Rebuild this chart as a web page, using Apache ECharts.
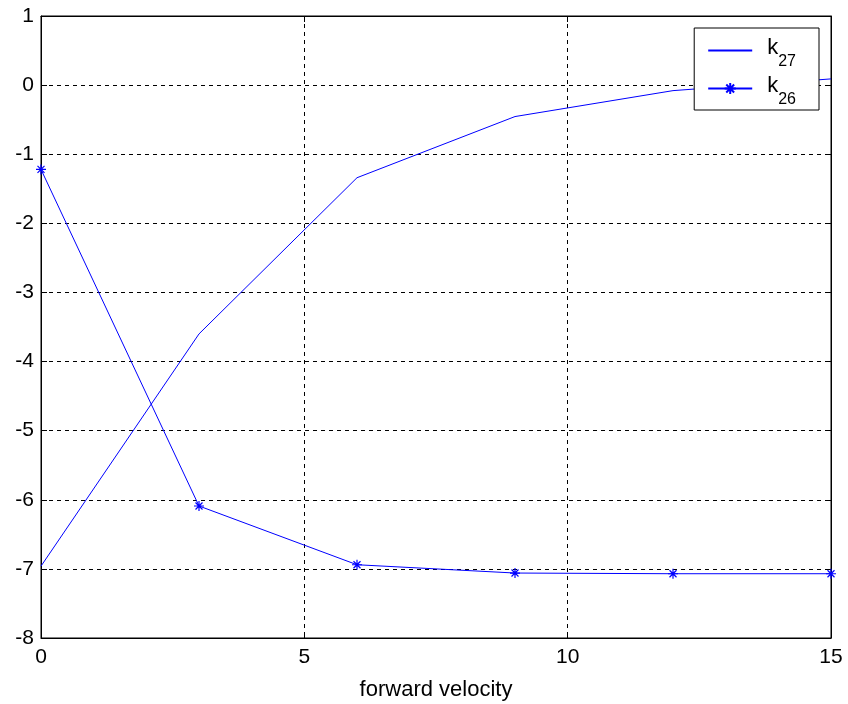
<!DOCTYPE html>
<html>
<head>
<meta charset="utf-8">
<script src="https://cdn.jsdelivr.net/npm/echarts@6/dist/echarts.min.js"></script>
<style>
  html, body { margin: 0; padding: 0; background: #fff; }
  #chart { width: 848px; height: 704px; }
</style>
</head>
<body>
<div id="chart"></div>
<script>
// data
const velocity = [0, 3, 6, 9, 12, 15];
const k27 = [-6.96, -3.60, -1.34, -0.455, -0.08, 0.09];
const k26 = [-1.22, -6.09, -6.94, -7.06, -7.07, -7.07];
const seriesNames = ['k27', 'k26'];
const subscripts = { k27: '27', k26: '26' };

const FONT = "'Liberation Sans', Arial, sans-serif";
const BLUE = '#0000ff';
// matlab style asterisk marker
const STAR = 'path://M5,0L5,10M0,5L10,5M1.5,1.5L8.5,8.5M1.5,8.5L8.5,1.5';

const chart = echarts.init(document.getElementById('chart'));

const pairs = (ys) => velocity.map((x, i) => [x, ys[i]]);

const frameLine = { show: true, onZero: false, lineStyle: { color: '#000', width: 1 } };
const tickStyle = { show: true, inside: true, length: 6, lineStyle: { color: '#000', width: 1 } };
const dashed = { show: true, lineStyle: { color: '#000', width: 1, type: [4, 4] } };

const option = {
  backgroundColor: '#fff',
  animation: false,
  grid: {
    left: 41, right: 17, top: 16, bottom: 66,
    containLabel: false,
    outerBoundsMode: 'none',
    show: true, borderColor: '#000', borderWidth: 1
  },
  xAxis: [
    {
      type: 'value', min: 0, max: 15, interval: 5,
      name: 'forward velocity', nameLocation: 'middle', nameGap: 41,
      nameTextStyle: { fontFamily: FONT, fontSize: 22, color: '#000' },
      axisLine: frameLine,
      axisTick: tickStyle,
      axisLabel: { fontFamily: FONT, fontSize: 21, color: '#000', margin: 9 },
      splitLine: dashed
    },
    {
      type: 'value', min: 0, max: 15, interval: 5, position: 'top',
      axisLine: frameLine,
      axisTick: tickStyle, axisLabel: { show: false }, splitLine: { show: false }
    }
  ],
  yAxis: [
    {
      type: 'value', min: -8, max: 1, interval: 1,
      axisLine: frameLine,
      axisTick: tickStyle,
      axisLabel: { fontFamily: FONT, fontSize: 21, color: '#000', margin: 7 },
      splitLine: dashed
    },
    {
      type: 'value', min: -8, max: 1, interval: 1, position: 'right',
      axisLine: frameLine,
      axisTick: tickStyle, axisLabel: { show: false }, splitLine: { show: false }
    }
  ],
  legend: {
    orient: 'vertical', right: 29, top: 28,
    data: [
      { name: seriesNames[0], itemStyle: { opacity: 0 } },
      { name: seriesNames[1] }
    ],
    padding: [3, 23, 2, 13],
    itemGap: -1, itemWidth: 44, itemHeight: 14,
    backgroundColor: '#fff', borderColor: '#000', borderWidth: 1,
    formatter: (name) => '{k|k}{s|' + subscripts[name] + '}',
    textStyle: {
      color: '#000',
      rich: {
        k: { fontFamily: FONT, fontSize: 22, lineHeight: 22, padding: [6, 0, 0, 10], verticalAlign: 'top', color: '#000' },
        s: { fontFamily: FONT, fontSize: 16, lineHeight: 39, verticalAlign: 'bottom', color: '#000' }
      }
    }
  },
  series: [
    {
      name: 'k27', type: 'line', data: pairs(k27),
      symbol: 'none',
      lineStyle: { color: BLUE, width: 1 },
      itemStyle: { color: BLUE }
    },
    {
      name: 'k26', type: 'line', data: pairs(k26),
      symbol: STAR, symbolSize: 10,
      lineStyle: { color: BLUE, width: 1 },
      itemStyle: { color: BLUE, borderColor: BLUE, borderWidth: 1.2 }
    }
  ]
};

chart.setOption(option);
</script>
</body>
</html>
